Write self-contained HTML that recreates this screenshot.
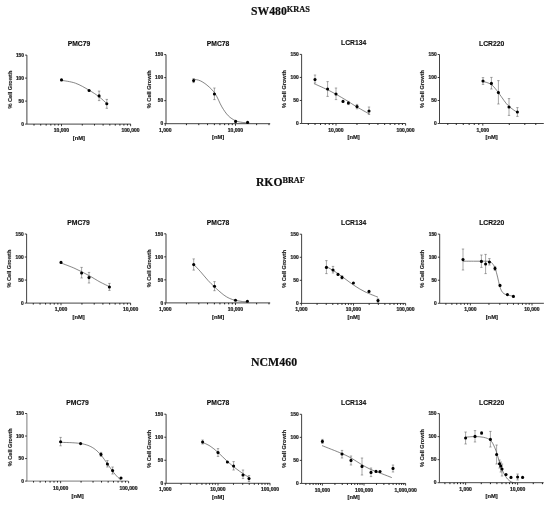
<!DOCTYPE html>
<html><head><meta charset="utf-8"><title>Figure</title>
<style>
html,body{margin:0;padding:0;background:#fff;}
body{width:550px;height:506px;overflow:hidden;position:relative;font-family:"Liberation Sans",sans-serif;}
</style></head><body>
<svg width="550" height="506" viewBox="0 0 550 506" style="position:absolute;left:0;top:0">
<rect width="550" height="506" fill="#fff"/>
<defs><filter id="bl" x="0" y="0" width="550" height="506" filterUnits="userSpaceOnUse"><feGaussianBlur stdDeviation="0.32"/></filter></defs>
<g filter="url(#bl)">
<g font-family="'Liberation Sans', sans-serif" font-weight="bold" fill="#222" text-anchor="middle">
<text x="78.9" y="46.1" font-size="6.75" fill="#111" stroke="#111" stroke-width="0.15">PMC79</text>
<path d="M26.90 55.10 V124.10 H130.80" fill="none" stroke="#2a2a2a" stroke-width="0.88"/>
<text x="24.0" y="125.8" font-size="4.85" stroke="#222" stroke-width="0.22" text-anchor="end">0</text>
<text x="24.0" y="102.8" font-size="4.85" stroke="#222" stroke-width="0.22" text-anchor="end">50</text>
<text x="24.0" y="79.8" font-size="4.85" stroke="#222" stroke-width="0.22" text-anchor="end">100</text>
<text x="24.0" y="56.7" font-size="4.85" stroke="#222" stroke-width="0.22" text-anchor="end">150</text>
<text x="61.5" y="132.2" font-size="5.0" stroke="#222" stroke-width="0.22">10,000</text>
<text x="130.6" y="132.2" font-size="5.0" stroke="#222" stroke-width="0.22">100,000</text>
<path d="M26.90 124.10 h-1.8M26.90 101.10 h-1.8M26.90 78.10 h-1.8M26.90 55.10 h-1.8M61.50 124.10 v2.1M130.60 124.10 v2.1" fill="none" stroke="#1a1a1a" stroke-width="0.85"/>
<path d="M34.00 124.10 v1.45M40.70 124.10 v1.45M46.17 124.10 v1.45M50.80 124.10 v1.45M54.80 124.10 v1.45M58.34 124.10 v1.45M82.30 124.10 v1.45M94.47 124.10 v1.45M103.10 124.10 v1.45M109.80 124.10 v1.45M115.27 124.10 v1.45M119.90 124.10 v1.45M123.90 124.10 v1.45M127.44 124.10 v1.45" fill="none" stroke="#111" stroke-width="0.95"/>
<text x="78.9" y="139.7" font-size="5.8" stroke="#222" stroke-width="0.2">[nM]</text>
<text transform="translate(11.6 89.6) rotate(-90)" font-size="5.6" stroke="#222" stroke-width="0.15">% Cell Growth</text>
<path d="M61.50 80.30 C63.83 80.78 70.90 81.55 75.50 83.20 C80.10 84.85 85.17 87.93 89.10 90.20 C93.03 92.47 96.15 94.57 99.10 96.80 C102.05 99.03 105.52 102.47 106.80 103.60" fill="none" stroke="#3a3a3a" stroke-width="0.62"/>
<path d="M99.10 91.10 V100.60 M97.90 91.10 h2.4 M97.90 100.60 h2.4M106.80 99.40 V108.30 M105.60 99.40 h2.4 M105.60 108.30 h2.4" fill="none" stroke="#505050" stroke-width="0.5"/>
<circle cx="61.50" cy="79.90" r="1.55" fill="#000"/>
<circle cx="89.10" cy="90.50" r="1.55" fill="#000"/>
<circle cx="99.10" cy="95.90" r="1.55" fill="#000"/>
<circle cx="106.80" cy="103.80" r="1.55" fill="#000"/>
<text x="218.1" y="45.6" font-size="6.75" fill="#111" stroke="#111" stroke-width="0.15">PMC78</text>
<path d="M166.00 54.60 V123.70 H270.20" fill="none" stroke="#2a2a2a" stroke-width="0.88"/>
<text x="163.1" y="125.4" font-size="4.85" stroke="#222" stroke-width="0.22" text-anchor="end">0</text>
<text x="163.1" y="102.3" font-size="4.85" stroke="#222" stroke-width="0.22" text-anchor="end">50</text>
<text x="163.1" y="79.3" font-size="4.85" stroke="#222" stroke-width="0.22" text-anchor="end">100</text>
<text x="163.1" y="56.3" font-size="4.85" stroke="#222" stroke-width="0.22" text-anchor="end">150</text>
<text x="165.3" y="131.8" font-size="5.0" stroke="#222" stroke-width="0.22">1,000</text>
<text x="235.5" y="131.8" font-size="5.0" stroke="#222" stroke-width="0.22">10,000</text>
<path d="M166.00 123.70 h-1.8M166.00 100.67 h-1.8M166.00 77.63 h-1.8M166.00 54.60 h-1.8M165.30 123.70 v2.1M235.50 123.70 v2.1" fill="none" stroke="#1a1a1a" stroke-width="0.85"/>
<path d="M186.43 123.70 v1.45M198.79 123.70 v1.45M207.56 123.70 v1.45M214.37 123.70 v1.45M219.93 123.70 v1.45M224.63 123.70 v1.45M228.70 123.70 v1.45M232.29 123.70 v1.45M256.63 123.70 v1.45M268.99 123.70 v1.45" fill="none" stroke="#111" stroke-width="0.95"/>
<text x="218.1" y="139.3" font-size="5.8" stroke="#222" stroke-width="0.2">[nM]</text>
<text transform="translate(150.7 89.2) rotate(-90)" font-size="5.6" stroke="#222" stroke-width="0.15">% Cell Growth</text>
<path d="M193.70 79.20 C194.80 79.47 197.93 79.68 200.30 80.80 C202.67 81.92 205.40 83.72 207.90 85.90 C210.40 88.08 212.97 90.40 215.30 93.90 C217.63 97.40 219.73 103.25 221.90 106.90 C224.07 110.55 226.03 113.50 228.30 115.80 C230.57 118.10 233.17 119.60 235.50 120.70 C237.83 121.80 240.32 122.05 242.30 122.40 C244.28 122.75 246.55 122.73 247.40 122.80" fill="none" stroke="#3a3a3a" stroke-width="0.62"/>
<path d="M193.60 78.60 V82.60 M192.40 78.60 h2.4 M192.40 82.60 h2.4M214.40 88.00 V99.60 M213.20 88.00 h2.4 M213.20 99.60 h2.4" fill="none" stroke="#505050" stroke-width="0.5"/>
<circle cx="193.60" cy="80.60" r="1.55" fill="#000"/>
<circle cx="214.40" cy="94.00" r="1.55" fill="#000"/>
<circle cx="235.60" cy="121.40" r="1.55" fill="#000"/>
<circle cx="247.60" cy="122.40" r="1.55" fill="#000"/>
<text x="353.6" y="45.4" font-size="6.75" fill="#111" stroke="#111" stroke-width="0.15">LCR134</text>
<path d="M301.60 54.40 V123.50 H405.70" fill="none" stroke="#2a2a2a" stroke-width="0.88"/>
<text x="298.7" y="125.2" font-size="4.85" stroke="#222" stroke-width="0.22" text-anchor="end">0</text>
<text x="298.7" y="102.1" font-size="4.85" stroke="#222" stroke-width="0.22" text-anchor="end">50</text>
<text x="298.7" y="79.1" font-size="4.85" stroke="#222" stroke-width="0.22" text-anchor="end">100</text>
<text x="298.7" y="56.1" font-size="4.85" stroke="#222" stroke-width="0.22" text-anchor="end">150</text>
<text x="336.0" y="131.6" font-size="5.0" stroke="#222" stroke-width="0.22">10,000</text>
<text x="405.6" y="131.6" font-size="5.0" stroke="#222" stroke-width="0.22">100,000</text>
<path d="M301.60 123.50 h-1.8M301.60 100.47 h-1.8M301.60 77.43 h-1.8M301.60 54.40 h-1.8M336.00 123.50 v2.1M405.60 123.50 v2.1" fill="none" stroke="#1a1a1a" stroke-width="0.85"/>
<path d="M308.30 123.50 v1.45M315.05 123.50 v1.45M320.56 123.50 v1.45M325.22 123.50 v1.45M329.26 123.50 v1.45M332.82 123.50 v1.45M356.95 123.50 v1.45M369.21 123.50 v1.45M377.90 123.50 v1.45M384.65 123.50 v1.45M390.16 123.50 v1.45M394.82 123.50 v1.45M398.86 123.50 v1.45M402.42 123.50 v1.45" fill="none" stroke="#111" stroke-width="0.95"/>
<text x="353.6" y="139.1" font-size="5.8" stroke="#222" stroke-width="0.2">[nM]</text>
<text transform="translate(286.3 89.0) rotate(-90)" font-size="5.6" stroke="#222" stroke-width="0.15">% Cell Growth</text>
<path d="M314.00 83.60 C316.67 84.83 324.83 88.35 330.00 91.00 C335.17 93.65 340.50 96.83 345.00 99.50 C349.50 102.17 352.93 104.58 357.00 107.00 C361.07 109.42 367.33 112.83 369.40 114.00" fill="none" stroke="#3a3a3a" stroke-width="0.62"/>
<path d="M315.00 75.00 V83.00 M313.80 75.00 h2.4 M313.80 83.00 h2.4M327.60 81.60 V96.40 M326.40 81.60 h2.4 M326.40 96.40 h2.4M336.00 88.00 V99.60 M334.80 88.00 h2.4 M334.80 99.60 h2.4M348.40 101.40 V104.60 M347.20 101.40 h2.4 M347.20 104.60 h2.4M357.00 104.40 V108.80 M355.80 104.40 h2.4 M355.80 108.80 h2.4M369.00 107.00 V114.40 M367.80 107.00 h2.4 M367.80 114.40 h2.4" fill="none" stroke="#505050" stroke-width="0.5"/>
<circle cx="315.00" cy="79.60" r="1.55" fill="#000"/>
<circle cx="327.60" cy="89.00" r="1.55" fill="#000"/>
<circle cx="336.00" cy="94.00" r="1.55" fill="#000"/>
<circle cx="343.00" cy="101.40" r="1.55" fill="#000"/>
<circle cx="348.40" cy="103.00" r="1.55" fill="#000"/>
<circle cx="357.00" cy="106.60" r="1.55" fill="#000"/>
<circle cx="369.00" cy="111.00" r="1.55" fill="#000"/>
<text x="491.6" y="45.5" font-size="6.75" fill="#111" stroke="#111" stroke-width="0.15">LCR220</text>
<path d="M439.50 54.50 V123.50 H543.80" fill="none" stroke="#2a2a2a" stroke-width="0.88"/>
<text x="436.6" y="125.2" font-size="4.85" stroke="#222" stroke-width="0.22" text-anchor="end">0</text>
<text x="436.6" y="102.2" font-size="4.85" stroke="#222" stroke-width="0.22" text-anchor="end">50</text>
<text x="436.6" y="79.2" font-size="4.85" stroke="#222" stroke-width="0.22" text-anchor="end">100</text>
<text x="436.6" y="56.1" font-size="4.85" stroke="#222" stroke-width="0.22" text-anchor="end">150</text>
<text x="482.8" y="131.6" font-size="5.0" stroke="#222" stroke-width="0.22">1,000</text>
<path d="M439.50 123.50 h-1.8M439.50 100.50 h-1.8M439.50 77.50 h-1.8M439.50 54.50 h-1.8M482.80 123.50 v2.1" fill="none" stroke="#1a1a1a" stroke-width="0.85"/>
<path d="M447.78 123.50 v1.45M456.31 123.50 v1.45M463.28 123.50 v1.45M469.17 123.50 v1.45M474.27 123.50 v1.45M478.77 123.50 v1.45M509.29 123.50 v1.45M524.79 123.50 v1.45M535.78 123.50 v1.45" fill="none" stroke="#111" stroke-width="0.95"/>
<text x="491.6" y="139.1" font-size="5.8" stroke="#222" stroke-width="0.2">[nM]</text>
<text transform="translate(424.2 89.0) rotate(-90)" font-size="5.6" stroke="#222" stroke-width="0.15">% Cell Growth</text>
<path d="M483.00 81.40 C484.40 81.93 488.83 82.73 491.40 84.60 C493.97 86.47 496.30 89.95 498.40 92.60 C500.50 95.25 502.23 98.20 504.00 100.50 C505.77 102.80 506.77 104.38 509.00 106.40 C511.23 108.42 516.00 111.57 517.40 112.60" fill="none" stroke="#3a3a3a" stroke-width="0.62"/>
<path d="M483.00 77.60 V84.40 M481.80 77.60 h2.4 M481.80 84.40 h2.4M491.40 77.40 V89.00 M490.20 77.40 h2.4 M490.20 89.00 h2.4M498.40 80.60 V104.00 M497.20 80.60 h2.4 M497.20 104.00 h2.4M509.00 98.60 V115.40 M507.80 98.60 h2.4 M507.80 115.40 h2.4M517.40 107.60 V116.40 M516.20 107.60 h2.4 M516.20 116.40 h2.4" fill="none" stroke="#505050" stroke-width="0.5"/>
<circle cx="483.00" cy="81.00" r="1.55" fill="#000"/>
<circle cx="491.40" cy="83.40" r="1.55" fill="#000"/>
<circle cx="498.40" cy="92.60" r="1.55" fill="#000"/>
<circle cx="509.00" cy="107.00" r="1.55" fill="#000"/>
<circle cx="517.40" cy="112.00" r="1.55" fill="#000"/>
<text x="78.6" y="225.0" font-size="6.75" fill="#111" stroke="#111" stroke-width="0.15">PMC79</text>
<path d="M26.60 234.00 V303.10 H130.70" fill="none" stroke="#2a2a2a" stroke-width="0.88"/>
<text x="23.7" y="304.8" font-size="4.85" stroke="#222" stroke-width="0.22" text-anchor="end">0</text>
<text x="23.7" y="281.7" font-size="4.85" stroke="#222" stroke-width="0.22" text-anchor="end">50</text>
<text x="23.7" y="258.7" font-size="4.85" stroke="#222" stroke-width="0.22" text-anchor="end">100</text>
<text x="23.7" y="235.7" font-size="4.85" stroke="#222" stroke-width="0.22" text-anchor="end">150</text>
<text x="61.0" y="311.2" font-size="5.0" stroke="#222" stroke-width="0.22">1,000</text>
<text x="130.6" y="311.2" font-size="5.0" stroke="#222" stroke-width="0.22">10,000</text>
<path d="M26.60 303.10 h-1.8M26.60 280.07 h-1.8M26.60 257.03 h-1.8M26.60 234.00 h-1.8M61.00 303.10 v2.1M130.60 303.10 v2.1" fill="none" stroke="#1a1a1a" stroke-width="0.85"/>
<path d="M33.30 303.10 v1.45M40.05 303.10 v1.45M45.56 303.10 v1.45M50.22 303.10 v1.45M54.26 303.10 v1.45M57.82 303.10 v1.45M81.95 303.10 v1.45M94.21 303.10 v1.45M102.90 303.10 v1.45M109.65 303.10 v1.45M115.16 303.10 v1.45M119.82 303.10 v1.45M123.86 303.10 v1.45M127.42 303.10 v1.45" fill="none" stroke="#111" stroke-width="0.95"/>
<text x="78.6" y="318.7" font-size="5.8" stroke="#222" stroke-width="0.2">[nM]</text>
<text transform="translate(11.3 268.6) rotate(-90)" font-size="5.6" stroke="#222" stroke-width="0.15">% Cell Growth</text>
<path d="M61.00 263.00 C63.33 263.92 70.33 266.40 75.00 268.50 C79.67 270.60 84.83 273.35 89.00 275.60 C93.17 277.85 96.60 280.17 100.00 282.00 C103.40 283.83 107.83 285.83 109.40 286.60" fill="none" stroke="#3a3a3a" stroke-width="0.62"/>
<path d="M81.60 267.40 V278.00 M80.40 267.40 h2.4 M80.40 278.00 h2.4M89.00 272.40 V283.00 M87.80 272.40 h2.4 M87.80 283.00 h2.4M109.40 283.40 V290.40 M108.20 283.40 h2.4 M108.20 290.40 h2.4" fill="none" stroke="#505050" stroke-width="0.5"/>
<circle cx="61.00" cy="262.40" r="1.55" fill="#000"/>
<circle cx="81.60" cy="273.00" r="1.55" fill="#000"/>
<circle cx="89.00" cy="277.60" r="1.55" fill="#000"/>
<circle cx="109.40" cy="287.00" r="1.55" fill="#000"/>
<text x="218.1" y="224.8" font-size="6.75" fill="#111" stroke="#111" stroke-width="0.15">PMC78</text>
<path d="M166.00 233.80 V302.90 H270.20" fill="none" stroke="#2a2a2a" stroke-width="0.88"/>
<text x="163.1" y="304.5" font-size="4.85" stroke="#222" stroke-width="0.22" text-anchor="end">0</text>
<text x="163.1" y="281.5" font-size="4.85" stroke="#222" stroke-width="0.22" text-anchor="end">50</text>
<text x="163.1" y="258.5" font-size="4.85" stroke="#222" stroke-width="0.22" text-anchor="end">100</text>
<text x="163.1" y="235.5" font-size="4.85" stroke="#222" stroke-width="0.22" text-anchor="end">150</text>
<text x="165.3" y="310.9" font-size="5.0" stroke="#222" stroke-width="0.22">1,000</text>
<text x="235.5" y="310.9" font-size="5.0" stroke="#222" stroke-width="0.22">10,000</text>
<path d="M166.00 302.90 h-1.8M166.00 279.87 h-1.8M166.00 256.83 h-1.8M166.00 233.80 h-1.8M165.30 302.90 v2.1M235.50 302.90 v2.1" fill="none" stroke="#1a1a1a" stroke-width="0.85"/>
<path d="M186.43 302.90 v1.45M198.79 302.90 v1.45M207.56 302.90 v1.45M214.37 302.90 v1.45M219.93 302.90 v1.45M224.63 302.90 v1.45M228.70 302.90 v1.45M232.29 302.90 v1.45M256.63 302.90 v1.45M268.99 302.90 v1.45" fill="none" stroke="#111" stroke-width="0.95"/>
<text x="218.1" y="318.5" font-size="5.8" stroke="#222" stroke-width="0.2">[nM]</text>
<text transform="translate(150.7 268.4) rotate(-90)" font-size="5.6" stroke="#222" stroke-width="0.15">% Cell Growth</text>
<path d="M193.70 264.40 C194.80 265.57 197.93 268.75 200.30 271.40 C202.67 274.05 205.53 277.72 207.90 280.30 C210.27 282.88 211.95 284.53 214.50 286.90 C217.05 289.27 220.70 292.58 223.20 294.50 C225.70 296.42 227.45 297.43 229.50 298.40 C231.55 299.37 233.37 299.78 235.50 300.30 C237.63 300.82 240.32 301.23 242.30 301.50 C244.28 301.77 246.55 301.83 247.40 301.90" fill="none" stroke="#3a3a3a" stroke-width="0.62"/>
<path d="M193.70 258.90 V270.10 M192.50 258.90 h2.4 M192.50 270.10 h2.4M214.50 281.60 V290.70 M213.30 281.60 h2.4 M213.30 290.70 h2.4" fill="none" stroke="#505050" stroke-width="0.5"/>
<circle cx="193.70" cy="264.60" r="1.55" fill="#000"/>
<circle cx="214.50" cy="286.30" r="1.55" fill="#000"/>
<circle cx="235.50" cy="300.30" r="1.55" fill="#000"/>
<circle cx="247.40" cy="301.20" r="1.55" fill="#000"/>
<text x="353.6" y="225.2" font-size="6.75" fill="#111" stroke="#111" stroke-width="0.15">LCR134</text>
<path d="M301.60 234.20 V303.40 H405.70" fill="none" stroke="#2a2a2a" stroke-width="0.88"/>
<text x="298.7" y="305.0" font-size="4.85" stroke="#222" stroke-width="0.22" text-anchor="end">0</text>
<text x="298.7" y="282.0" font-size="4.85" stroke="#222" stroke-width="0.22" text-anchor="end">50</text>
<text x="298.7" y="258.9" font-size="4.85" stroke="#222" stroke-width="0.22" text-anchor="end">100</text>
<text x="298.7" y="235.8" font-size="4.85" stroke="#222" stroke-width="0.22" text-anchor="end">150</text>
<text x="301.4" y="311.4" font-size="5.0" stroke="#222" stroke-width="0.22">1,000</text>
<text x="353.5" y="311.4" font-size="5.0" stroke="#222" stroke-width="0.22">10,000</text>
<text x="405.6" y="311.4" font-size="5.0" stroke="#222" stroke-width="0.22">100,000</text>
<path d="M301.60 303.40 h-1.8M301.60 280.33 h-1.8M301.60 257.27 h-1.8M301.60 234.20 h-1.8M301.40 303.40 v2.1M353.50 303.40 v2.1M405.60 303.40 v2.1" fill="none" stroke="#1a1a1a" stroke-width="0.85"/>
<path d="M317.08 303.40 v1.45M326.26 303.40 v1.45M332.77 303.40 v1.45M337.82 303.40 v1.45M341.94 303.40 v1.45M345.43 303.40 v1.45M348.45 303.40 v1.45M351.12 303.40 v1.45M369.18 303.40 v1.45M378.36 303.40 v1.45M384.87 303.40 v1.45M389.92 303.40 v1.45M394.04 303.40 v1.45M397.53 303.40 v1.45M400.55 303.40 v1.45M403.22 303.40 v1.45" fill="none" stroke="#111" stroke-width="0.95"/>
<text x="353.6" y="319.0" font-size="5.8" stroke="#222" stroke-width="0.2">[nM]</text>
<text transform="translate(286.3 268.8) rotate(-90)" font-size="5.6" stroke="#222" stroke-width="0.15">% Cell Growth</text>
<path d="M326.40 266.60 C327.83 267.43 331.90 269.57 335.00 271.60 C338.10 273.63 341.67 276.40 345.00 278.80 C348.33 281.20 351.67 283.83 355.00 286.00 C358.33 288.17 361.17 289.93 365.00 291.80 C368.83 293.67 375.83 296.30 378.00 297.20" fill="none" stroke="#3a3a3a" stroke-width="0.62"/>
<path d="M326.40 260.60 V273.60 M325.20 260.60 h2.4 M325.20 273.60 h2.4M333.00 266.40 V273.00 M331.80 266.40 h2.4 M331.80 273.00 h2.4M342.00 275.80 V279.00 M340.80 275.80 h2.4 M340.80 279.00 h2.4M378.00 298.80 V302.40 M376.80 298.80 h2.4 M376.80 302.40 h2.4" fill="none" stroke="#505050" stroke-width="0.5"/>
<circle cx="326.40" cy="267.40" r="1.55" fill="#000"/>
<circle cx="333.00" cy="270.00" r="1.55" fill="#000"/>
<circle cx="338.00" cy="274.40" r="1.55" fill="#000"/>
<circle cx="342.00" cy="277.40" r="1.55" fill="#000"/>
<circle cx="353.40" cy="283.00" r="1.55" fill="#000"/>
<circle cx="369.00" cy="291.40" r="1.55" fill="#000"/>
<circle cx="378.00" cy="300.60" r="1.55" fill="#000"/>
<text x="491.8" y="225.1" font-size="6.75" fill="#111" stroke="#111" stroke-width="0.15">LCR220</text>
<path d="M439.70 234.10 V303.30 H543.90" fill="none" stroke="#2a2a2a" stroke-width="0.88"/>
<text x="436.8" y="304.9" font-size="4.85" stroke="#222" stroke-width="0.22" text-anchor="end">0</text>
<text x="436.8" y="281.9" font-size="4.85" stroke="#222" stroke-width="0.22" text-anchor="end">50</text>
<text x="436.8" y="258.8" font-size="4.85" stroke="#222" stroke-width="0.22" text-anchor="end">100</text>
<text x="436.8" y="235.8" font-size="4.85" stroke="#222" stroke-width="0.22" text-anchor="end">150</text>
<text x="470.4" y="311.4" font-size="5.0" stroke="#222" stroke-width="0.22">1,000</text>
<text x="532.0" y="311.4" font-size="5.0" stroke="#222" stroke-width="0.22">10,000</text>
<path d="M439.70 303.30 h-1.8M439.70 280.23 h-1.8M439.70 257.17 h-1.8M439.70 234.10 h-1.8M470.40 303.30 v2.1M532.00 303.30 v2.1" fill="none" stroke="#1a1a1a" stroke-width="0.85"/>
<path d="M445.89 303.30 v1.45M451.86 303.30 v1.45M456.73 303.30 v1.45M460.86 303.30 v1.45M464.43 303.30 v1.45M467.58 303.30 v1.45M488.94 303.30 v1.45M499.79 303.30 v1.45M507.49 303.30 v1.45M513.46 303.30 v1.45M518.33 303.30 v1.45M522.46 303.30 v1.45M526.03 303.30 v1.45M529.18 303.30 v1.45" fill="none" stroke="#111" stroke-width="0.95"/>
<text x="491.8" y="318.9" font-size="5.8" stroke="#222" stroke-width="0.2">[nM]</text>
<text transform="translate(424.4 268.7) rotate(-90)" font-size="5.6" stroke="#222" stroke-width="0.15">% Cell Growth</text>
<path d="M462.90 261.20 C464.92 261.20 471.15 261.20 475.00 261.20 C478.85 261.20 483.58 261.13 486.00 261.20 C488.42 261.27 488.47 261.25 489.50 261.60 C490.53 261.95 491.27 262.20 492.20 263.30 C493.13 264.40 494.20 265.90 495.10 268.20 C496.00 270.50 496.87 274.23 497.60 277.10 C498.33 279.97 498.85 283.12 499.50 285.40 C500.15 287.68 500.75 289.42 501.50 290.80 C502.25 292.18 503.02 293.02 504.00 293.70 C504.98 294.38 505.85 294.48 507.40 294.90 C508.95 295.32 512.32 295.98 513.30 296.20" fill="none" stroke="#3a3a3a" stroke-width="0.62"/>
<path d="M463.00 249.00 V270.00 M461.80 249.00 h2.4 M461.80 270.00 h2.4M481.40 255.00 V267.40 M480.20 255.00 h2.4 M480.20 267.40 h2.4M485.60 254.40 V273.60 M484.40 254.40 h2.4 M484.40 273.60 h2.4M489.40 258.60 V265.00 M488.20 258.60 h2.4 M488.20 265.00 h2.4M495.00 266.40 V270.40 M493.80 266.40 h2.4 M493.80 270.40 h2.4" fill="none" stroke="#505050" stroke-width="0.5"/>
<circle cx="463.00" cy="259.60" r="1.55" fill="#000"/>
<circle cx="481.40" cy="261.40" r="1.55" fill="#000"/>
<circle cx="485.60" cy="264.00" r="1.55" fill="#000"/>
<circle cx="489.40" cy="262.00" r="1.55" fill="#000"/>
<circle cx="495.00" cy="268.40" r="1.55" fill="#000"/>
<circle cx="500.00" cy="285.40" r="1.55" fill="#000"/>
<circle cx="507.40" cy="294.60" r="1.55" fill="#000"/>
<circle cx="513.40" cy="296.40" r="1.55" fill="#000"/>
<text x="77.6" y="404.5" font-size="6.75" fill="#111" stroke="#111" stroke-width="0.15">PMC79</text>
<path d="M26.90 413.50 V481.10 H128.30" fill="none" stroke="#2a2a2a" stroke-width="0.62"/>
<text x="24.0" y="482.8" font-size="4.85" stroke="#222" stroke-width="0.22" text-anchor="end">0</text>
<text x="24.0" y="460.2" font-size="4.85" stroke="#222" stroke-width="0.22" text-anchor="end">50</text>
<text x="24.0" y="437.7" font-size="4.85" stroke="#222" stroke-width="0.22" text-anchor="end">100</text>
<text x="24.0" y="415.1" font-size="4.85" stroke="#222" stroke-width="0.22" text-anchor="end">150</text>
<text x="60.6" y="490.2" font-size="5.0" stroke="#222" stroke-width="0.22">10,000</text>
<text x="128.6" y="490.2" font-size="5.0" stroke="#222" stroke-width="0.22">100,000</text>
<path d="M26.90 481.10 h-1.8M26.90 458.57 h-1.8M26.90 436.03 h-1.8M26.90 413.50 h-1.8M60.60 481.10 v2.1M128.60 481.10 v2.1" fill="none" stroke="#1a1a1a" stroke-width="0.85"/>
<path d="M33.54 481.10 v1.45M40.13 481.10 v1.45M45.51 481.10 v1.45M50.07 481.10 v1.45M54.01 481.10 v1.45M57.49 481.10 v1.45M81.07 481.10 v1.45M93.04 481.10 v1.45M101.54 481.10 v1.45M108.13 481.10 v1.45M113.51 481.10 v1.45M118.07 481.10 v1.45M122.01 481.10 v1.45M125.49 481.10 v1.45" fill="none" stroke="#111" stroke-width="0.95"/>
<text x="77.6" y="497.9" font-size="5.8" stroke="#222" stroke-width="0.2">[nM]</text>
<text transform="translate(11.6 447.3) rotate(-90)" font-size="5.6" stroke="#222" stroke-width="0.15">% Cell Growth</text>
<path d="M60.60 442.39 L62.11 442.41 L63.62 442.44 L65.13 442.47 L66.64 442.51 L68.15 442.55 L69.66 442.60 L71.17 442.67 L72.68 442.75 L74.19 442.84 L75.70 442.96 L77.21 443.10 L78.72 443.27 L80.23 443.48 L81.74 443.72 L83.25 444.02 L84.76 444.38 L86.27 444.80 L87.78 445.31 L89.29 445.91 L90.80 446.62 L92.31 447.44 L93.82 448.41 L95.33 449.52 L96.84 450.79 L98.35 452.22 L99.86 453.82 L101.37 455.57 L102.88 457.47 L104.39 459.50 L105.90 461.62 L107.41 463.79 L108.92 465.98 L110.43 468.15 L111.94 470.25 L113.45 472.25 L114.96 474.12 L116.47 475.85 L117.98 477.41 L119.49 478.80 L121.00 480.04" fill="none" stroke="#3a3a3a" stroke-width="0.62"/>
<path d="M60.60 437.40 V445.80 M59.40 437.40 h2.4 M59.40 445.80 h2.4M101.00 452.40 V456.40 M99.80 452.40 h2.4 M99.80 456.40 h2.4M107.40 460.60 V467.00 M106.20 460.60 h2.4 M106.20 467.00 h2.4M112.60 467.00 V474.00 M111.40 467.00 h2.4 M111.40 474.00 h2.4" fill="none" stroke="#505050" stroke-width="0.5"/>
<circle cx="60.60" cy="441.80" r="1.55" fill="#000"/>
<circle cx="80.60" cy="443.60" r="1.55" fill="#000"/>
<circle cx="101.00" cy="454.40" r="1.55" fill="#000"/>
<circle cx="107.40" cy="464.00" r="1.55" fill="#000"/>
<circle cx="112.60" cy="470.60" r="1.55" fill="#000"/>
<circle cx="121.00" cy="478.00" r="1.55" fill="#000"/>
<text x="218.1" y="405.2" font-size="6.75" fill="#111" stroke="#111" stroke-width="0.15">PMC78</text>
<path d="M166.10 414.20 V483.30 H270.20" fill="none" stroke="#2a2a2a" stroke-width="0.88"/>
<text x="163.2" y="484.9" font-size="4.85" stroke="#222" stroke-width="0.22" text-anchor="end">0</text>
<text x="163.2" y="461.9" font-size="4.85" stroke="#222" stroke-width="0.22" text-anchor="end">50</text>
<text x="163.2" y="438.9" font-size="4.85" stroke="#222" stroke-width="0.22" text-anchor="end">100</text>
<text x="163.2" y="415.8" font-size="4.85" stroke="#222" stroke-width="0.22" text-anchor="end">150</text>
<text x="165.3" y="491.4" font-size="5.0" stroke="#222" stroke-width="0.22">1,000</text>
<text x="218.0" y="491.4" font-size="5.0" stroke="#222" stroke-width="0.22">10,000</text>
<text x="270.0" y="491.4" font-size="5.0" stroke="#222" stroke-width="0.22">100,000</text>
<path d="M166.10 483.30 h-1.8M166.10 460.27 h-1.8M166.10 437.23 h-1.8M166.10 414.20 h-1.8M165.30 483.30 v2.1M218.00 483.30 v2.1M270.00 483.30 v2.1" fill="none" stroke="#1a1a1a" stroke-width="0.85"/>
<path d="M181.07 483.30 v1.45M190.30 483.30 v1.45M196.85 483.30 v1.45M201.93 483.30 v1.45M206.08 483.30 v1.45M209.58 483.30 v1.45M212.62 483.30 v1.45M215.30 483.30 v1.45M233.47 483.30 v1.45M242.70 483.30 v1.45M249.25 483.30 v1.45M254.33 483.30 v1.45M258.48 483.30 v1.45M261.98 483.30 v1.45M265.02 483.30 v1.45M267.70 483.30 v1.45" fill="none" stroke="#111" stroke-width="0.95"/>
<text x="218.1" y="498.9" font-size="5.8" stroke="#222" stroke-width="0.2">[nM]</text>
<text transform="translate(150.8 448.8) rotate(-90)" font-size="5.6" stroke="#222" stroke-width="0.15">% Cell Growth</text>
<path d="M202.60 442.40 C203.83 443.00 207.43 444.33 210.00 446.00 C212.57 447.67 215.10 449.83 218.00 452.40 C220.90 454.97 224.40 458.70 227.40 461.40 C230.40 464.10 233.40 466.57 236.00 468.60 C238.60 470.63 240.83 472.13 243.00 473.60 C245.17 475.07 248.00 476.77 249.00 477.40" fill="none" stroke="#3a3a3a" stroke-width="0.62"/>
<path d="M202.60 440.00 V444.00 M201.40 440.00 h2.4 M201.40 444.00 h2.4M218.00 448.60 V456.40 M216.80 448.60 h2.4 M216.80 456.40 h2.4M233.60 461.60 V470.00 M232.40 461.60 h2.4 M232.40 470.00 h2.4M243.00 470.00 V478.60 M241.80 470.00 h2.4 M241.80 478.60 h2.4M249.00 475.60 V481.60 M247.80 475.60 h2.4 M247.80 481.60 h2.4" fill="none" stroke="#505050" stroke-width="0.5"/>
<circle cx="202.60" cy="442.00" r="1.55" fill="#000"/>
<circle cx="218.00" cy="452.60" r="1.55" fill="#000"/>
<circle cx="227.40" cy="462.00" r="1.55" fill="#000"/>
<circle cx="233.60" cy="466.00" r="1.55" fill="#000"/>
<circle cx="243.00" cy="475.00" r="1.55" fill="#000"/>
<circle cx="249.00" cy="478.60" r="1.55" fill="#000"/>
<text x="353.6" y="405.3" font-size="6.75" fill="#111" stroke="#111" stroke-width="0.15">LCR134</text>
<path d="M301.60 414.30 V483.45 H405.70" fill="none" stroke="#2a2a2a" stroke-width="0.88"/>
<text x="298.7" y="485.1" font-size="4.85" stroke="#222" stroke-width="0.22" text-anchor="end">0</text>
<text x="298.7" y="462.0" font-size="4.85" stroke="#222" stroke-width="0.22" text-anchor="end">50</text>
<text x="298.7" y="439.0" font-size="4.85" stroke="#222" stroke-width="0.22" text-anchor="end">100</text>
<text x="298.7" y="415.9" font-size="4.85" stroke="#222" stroke-width="0.22" text-anchor="end">150</text>
<text x="322.4" y="491.5" font-size="5.0" stroke="#222" stroke-width="0.22">10,000</text>
<text x="364.0" y="491.5" font-size="5.0" stroke="#222" stroke-width="0.22">100,000</text>
<text x="405.6" y="491.5" font-size="5.0" stroke="#222" stroke-width="0.22">1,000,000</text>
<path d="M301.60 483.45 h-1.8M301.60 460.40 h-1.8M301.60 437.35 h-1.8M301.60 414.30 h-1.8M322.40 483.45 v2.1M364.00 483.45 v2.1M405.60 483.45 v2.1" fill="none" stroke="#1a1a1a" stroke-width="0.85"/>
<path d="M305.85 483.45 v1.45M309.88 483.45 v1.45M313.17 483.45 v1.45M315.96 483.45 v1.45M318.37 483.45 v1.45M320.50 483.45 v1.45M334.92 483.45 v1.45M342.25 483.45 v1.45M347.45 483.45 v1.45M351.48 483.45 v1.45M354.77 483.45 v1.45M357.56 483.45 v1.45M359.97 483.45 v1.45M362.10 483.45 v1.45M376.52 483.45 v1.45M383.85 483.45 v1.45M389.05 483.45 v1.45M393.08 483.45 v1.45M396.37 483.45 v1.45M399.16 483.45 v1.45M401.57 483.45 v1.45M403.70 483.45 v1.45" fill="none" stroke="#111" stroke-width="0.95"/>
<text x="353.6" y="499.1" font-size="5.8" stroke="#222" stroke-width="0.2">[nM]</text>
<text transform="translate(286.3 448.9) rotate(-90)" font-size="5.6" stroke="#222" stroke-width="0.15">% Cell Growth</text>
<path d="M322.00 445.60 C325.33 446.93 336.98 451.43 342.00 453.60 C347.02 455.77 348.87 456.80 352.10 458.60 C355.33 460.40 358.32 462.60 361.40 464.40 C364.48 466.20 367.25 467.87 370.60 469.40 C373.95 470.93 377.97 472.23 381.50 473.60 C385.03 474.97 390.08 476.93 391.80 477.60" fill="none" stroke="#3a3a3a" stroke-width="0.62"/>
<path d="M322.40 439.40 V443.40 M321.20 439.40 h2.4 M321.20 443.40 h2.4M342.00 450.40 V458.00 M340.80 450.40 h2.4 M340.80 458.00 h2.4M351.00 456.00 V465.00 M349.80 456.00 h2.4 M349.80 465.00 h2.4M362.00 458.00 V475.00 M360.80 458.00 h2.4 M360.80 475.00 h2.4M371.00 468.00 V476.60 M369.80 468.00 h2.4 M369.80 476.60 h2.4M393.00 465.00 V472.00 M391.80 465.00 h2.4 M391.80 472.00 h2.4" fill="none" stroke="#505050" stroke-width="0.5"/>
<circle cx="322.40" cy="441.40" r="1.55" fill="#000"/>
<circle cx="342.00" cy="454.00" r="1.55" fill="#000"/>
<circle cx="351.00" cy="460.40" r="1.55" fill="#000"/>
<circle cx="362.00" cy="466.40" r="1.55" fill="#000"/>
<circle cx="371.00" cy="472.40" r="1.55" fill="#000"/>
<circle cx="376.00" cy="471.40" r="1.55" fill="#000"/>
<circle cx="380.00" cy="471.60" r="1.55" fill="#000"/>
<circle cx="393.00" cy="468.40" r="1.55" fill="#000"/>
<text x="491.6" y="404.6" font-size="6.75" fill="#111" stroke="#111" stroke-width="0.15">LCR220</text>
<path d="M439.40 413.60 V482.70 H543.70" fill="none" stroke="#2a2a2a" stroke-width="0.88"/>
<text x="436.5" y="484.3" font-size="4.85" stroke="#222" stroke-width="0.22" text-anchor="end">0</text>
<text x="436.5" y="461.3" font-size="4.85" stroke="#222" stroke-width="0.22" text-anchor="end">50</text>
<text x="436.5" y="438.3" font-size="4.85" stroke="#222" stroke-width="0.22" text-anchor="end">100</text>
<text x="436.5" y="415.2" font-size="4.85" stroke="#222" stroke-width="0.22" text-anchor="end">150</text>
<text x="465.6" y="490.8" font-size="5.0" stroke="#222" stroke-width="0.22">1,000</text>
<text x="517.6" y="490.8" font-size="5.0" stroke="#222" stroke-width="0.22">10,000</text>
<path d="M439.40 482.70 h-1.8M439.40 459.67 h-1.8M439.40 436.63 h-1.8M439.40 413.60 h-1.8M465.60 482.70 v2.1M517.60 482.70 v2.1" fill="none" stroke="#1a1a1a" stroke-width="0.85"/>
<path d="M444.91 482.70 v1.45M449.95 482.70 v1.45M454.06 482.70 v1.45M457.55 482.70 v1.45M460.56 482.70 v1.45M463.22 482.70 v1.45M481.25 482.70 v1.45M490.41 482.70 v1.45M496.91 482.70 v1.45M501.95 482.70 v1.45M506.06 482.70 v1.45M509.55 482.70 v1.45M512.56 482.70 v1.45M515.22 482.70 v1.45M533.25 482.70 v1.45M542.41 482.70 v1.45" fill="none" stroke="#111" stroke-width="0.95"/>
<text x="491.6" y="498.3" font-size="5.8" stroke="#222" stroke-width="0.2">[nM]</text>
<text transform="translate(424.1 448.1) rotate(-90)" font-size="5.6" stroke="#222" stroke-width="0.15">% Cell Growth</text>
<path d="M465.40 437.20 C466.92 437.10 471.48 436.58 474.50 436.60 C477.52 436.62 480.83 436.68 483.50 437.30 C486.17 437.92 488.60 438.53 490.50 440.30 C492.40 442.07 493.73 445.37 494.90 447.90 C496.07 450.43 496.55 452.53 497.50 455.50 C498.45 458.47 499.55 462.72 500.60 465.70 C501.65 468.68 502.63 471.17 503.80 473.40 C504.97 475.63 506.32 477.67 507.60 479.10 C508.88 480.53 510.33 481.40 511.50 482.00 C512.67 482.60 514.08 482.58 514.60 482.70" fill="none" stroke="#3a3a3a" stroke-width="0.62"/>
<path d="M465.60 432.00 V444.00 M464.40 432.00 h2.4 M464.40 444.00 h2.4M475.00 430.60 V442.00 M473.80 430.60 h2.4 M473.80 442.00 h2.4M481.60 431.60 V434.40 M480.40 431.60 h2.4 M480.40 434.40 h2.4M490.40 431.40 V447.00 M489.20 431.40 h2.4 M489.20 447.00 h2.4M496.60 445.00 V464.00 M495.40 445.00 h2.4 M495.40 464.00 h2.4M499.50 460.00 V468.00 M498.30 460.00 h2.4 M498.30 468.00 h2.4M500.80 462.00 V472.00 M499.60 462.00 h2.4 M499.60 472.00 h2.4M502.00 464.00 V476.00 M500.80 464.00 h2.4 M500.80 476.00 h2.4M517.60 474.00 V480.00 M516.40 474.00 h2.4 M516.40 480.00 h2.4" fill="none" stroke="#505050" stroke-width="0.5"/>
<circle cx="465.60" cy="438.00" r="1.55" fill="#000"/>
<circle cx="475.00" cy="436.40" r="1.55" fill="#000"/>
<circle cx="481.60" cy="433.00" r="1.55" fill="#000"/>
<circle cx="490.40" cy="439.40" r="1.55" fill="#000"/>
<circle cx="496.60" cy="454.50" r="1.55" fill="#000"/>
<circle cx="499.50" cy="463.80" r="1.55" fill="#000"/>
<circle cx="500.80" cy="466.00" r="1.55" fill="#000"/>
<circle cx="502.00" cy="469.00" r="1.55" fill="#000"/>
<circle cx="506.00" cy="474.60" r="1.55" fill="#000"/>
<circle cx="511.00" cy="477.40" r="1.55" fill="#000"/>
<circle cx="517.60" cy="477.00" r="1.55" fill="#000"/>
<circle cx="522.60" cy="477.40" r="1.55" fill="#000"/>
</g>
<g font-family="'Liberation Serif', serif" font-weight="bold" fill="#111" stroke="#111" stroke-width="0.2">
<text x="251" y="15.1" font-size="11.7">SW480<tspan font-size="8.3" dy="-3.6">KRAS</tspan></text>
<text x="256" y="186.2" font-size="11.6">RKO<tspan font-size="8.2" dy="-3.7">BRAF</tspan></text>
<text x="251" y="365.7" font-size="11.85">NCM460</text>
</g>
</g>
</svg>
</body></html>
